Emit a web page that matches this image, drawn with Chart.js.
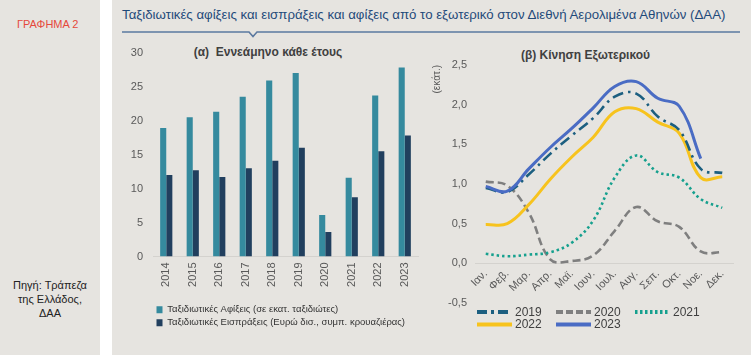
<!DOCTYPE html>
<html>
<head>
<meta charset="utf-8">
<script src="https://cdn.jsdelivr.net/npm/chart.js@4.4.1/dist/chart.umd.min.js"></script>
<style>
    body { margin: 0; width: 751px; height: 361px; background: #fff; position: relative; overflow: hidden;
           font-family: "Liberation Sans", Arial, sans-serif; }
    .panel { position: absolute; background: #e6e4e0; }
    .txt { position: absolute; white-space: nowrap; }
    canvas { position: absolute; }
</style>
</head>
<body>
<div class="panel" style="left:0;top:0;width:100px;height:355px"></div>
<div class="panel" style="left:112px;top:0;width:639px;height:355px"></div>

<div class="txt" style="left:17px;top:18px;font-size:11px;color:#e5483b">ΓΡΑΦΗΜΑ 2</div>
<div class="txt" style="left:0;top:278px;width:100px;text-align:center;font-size:11px;line-height:14px;color:#222;white-space:normal">Πηγή: Τράπεζα<br>της Ελλάδος,<br>ΔΑΑ</div>

<div class="txt" style="left:122px;top:7px;font-size:13.25px;color:#1f4a7a">Ταξιδιωτικές αφίξεις και εισπράξεις και αφίξεις από το εξωτερικό στον Διεθνή Αερολιμένα Αθηνών (ΔΑΑ)</div>
<svg style="position:absolute;left:122px;top:30px" width="620" height="10">
    <polyline points="0,2 127,2 131,6.5 135,2 618,2" fill="none" stroke="#5b79a0" stroke-width="1.6"/>
</svg>

<div class="txt" style="left:112px;top:45px;width:312px;text-align:center;font-size:12px;font-weight:bold;color:#404040">(α)&nbsp; Εννεάμηνο κάθε έτους</div>
<div class="txt" style="left:420px;top:48px;width:331px;text-align:center;font-size:12px;font-weight:bold;color:#404040">(β) Κίνηση Εξωτερικού</div>

<canvas id="barChart" style="left:112px;top:36px" width="318" height="309"></canvas>
<canvas id="lineChart" style="left:420px;top:40px" width="331" height="310"></canvas>

<script>
// (α) εννεάμηνο κάθε έτους
const years = ["2014", "2015", "2016", "2017", "2018", "2019", "2020", "2021", "2022", "2023"];
const arrivals = [18.9, 20.5, 21.3, 23.5, 25.9, 27.0, 6.1, 11.6, 23.7, 27.8];
const receipts = [12.0, 12.7, 11.7, 13.0, 14.1, 16.0, 3.6, 8.7, 15.5, 17.8];

// (β) κίνηση εξωτερικού, εκατ.
const months = ["Ιαν.", "Φεβ.", "Μαρ.", "Απρ.", "Μαϊ.", "Ιουν.", "Ιουλ.", "Αυγ.", "Σεπ.", "Οκτ.", "Νοε.", "Δεκ."];
const y2019 = [0.95, 0.90, 1.12, 1.38, 1.61, 1.83, 2.10, 2.14, 1.85, 1.68, 1.19, 1.14];
const y2020 = [1.03, 0.98, 0.64, 0.05, 0.03, 0.10, 0.41, 0.71, 0.53, 0.46, 0.15, 0.14];
const y2021 = [0.12, 0.09, 0.11, 0.14, 0.26, 0.54, 1.08, 1.36, 1.15, 1.08, 0.81, 0.70];
const y2022 = [0.49, 0.50, 0.74, 1.06, 1.34, 1.59, 1.91, 1.95, 1.78, 1.64, 1.08, 1.09];
const y2023 = [0.97, 0.91, 1.19, 1.46, 1.70, 1.96, 2.23, 2.29, 2.08, 1.98, 1.32, null];

const FONT = "'Liberation Sans', Arial, sans-serif";
const TICK = "#595959";
Chart.defaults.font.family = FONT;
Chart.defaults.color = TICK;

new Chart(document.getElementById("barChart").getContext("2d"), {
    type: "bar",
    data: {
        labels: years,
        datasets: [{
            label: "Ταξιδιωτικές Αφίξεις (σε εκατ. ταξιδιώτες)",
            data: arrivals,
            backgroundColor: "#358a9e"
        }, {
            label: "Ταξιδιωτικές Εισπράξεις (Ευρώ δισ., συμπ. κρουαζιέρας)",
            data: receipts,
            backgroundColor: "#213f5e"
        }]
    },
    options: {
        responsive: false,
        animation: false,
        layout: { padding: { top: 2, right: 12, bottom: 7.5, left: 0 } },
        datasets: { bar: { categoryPercentage: 0.46, barPercentage: 1.0 } },
        plugins: {
            tooltip: { enabled: false },
            legend: {
                position: "bottom",
                align: "start",
                fullSize: false,
                labels: { boxWidth: 6, boxHeight: 7, padding: 3.5, color: "#333", font: { size: 9.5 } }
            }
        },
        scales: {
            x: {
                afterFit: s => { s.height = 45; },
                grid: { display: false, drawTicks: false },
                border: { display: true, color: "#d4d2ce", width: 1 },
                ticks: { minRotation: 90, maxRotation: 90, padding: 6, font: { size: 11 } }
            },
            y: {
                min: 0, max: 30,
                afterFit: s => { s.width = 41; },
                grid: { display: false, drawTicks: false },
                border: { display: false },
                ticks: { stepSize: 5, padding: 10, font: { size: 11 } }
            }
        }
    }
});

// legend for the line chart: line samples with the dataset dash styles
const lineLegend = {
    id: "lineLegend",
    afterDraw(chart) {
        const { ctx, chartArea } = chart;
        ctx.save();
        chart.data.datasets.forEach((ds, i) => {
            const x = chartArea.left + 2 + (i % 3) * 79;
            const y = chartArea.bottom + 9 + Math.floor(i / 3) * 12.6;
            ctx.beginPath();
            ctx.setLineDash(ds.legendDash || []);
            ctx.strokeStyle = ds.borderColor;
            ctx.lineWidth = 4;
            ctx.moveTo(x, y);
            ctx.lineTo(x + 35, y);
            ctx.stroke();
            ctx.setLineDash([]);
            ctx.fillStyle = "#404040";
            ctx.font = "12px " + FONT;
            ctx.textBaseline = "middle";
            ctx.fillText(ds.label, x + 38, y + 0.5);
        });
        ctx.restore();
    }
};

new Chart(document.getElementById("lineChart").getContext("2d"), {
    type: "line",
    data: {
        labels: months,
        datasets: [{
            label: "2019", data: y2019, borderColor: "#1c5f80", borderWidth: 2.6,
            borderDash: [11, 5, 2.5, 5], legendDash: [10, 4, 3, 4], order: 2
        }, {
            label: "2020", data: y2020, borderColor: "#7f7f7f", borderWidth: 2.6,
            borderDash: [8, 4], legendDash: [7, 3], order: 5
        }, {
            label: "2021", data: y2021, borderColor: "#16a08e", borderWidth: 2.6,
            borderDash: [2.5, 3], legendDash: [2.5, 2.5], order: 4
        }, {
            label: "2022", data: y2022, borderColor: "#f7c31e", borderWidth: 3, order: 3
        }, {
            label: "2023", data: y2023, borderColor: "#4a6cc4", borderWidth: 3, order: 1
        }]
    },
    options: {
        responsive: false,
        animation: false,
        layout: { padding: { top: 25, right: 18, bottom: 47, left: 0 } },
        elements: { point: { radius: 0 }, line: { tension: 0.4, fill: false } },
        plugins: { legend: { display: false }, tooltip: { enabled: false } },
        scales: {
            x: {
                position: { y: 0 },
                offset: true,
                grid: { display: false, drawTicks: false },
                border: { display: true, color: "#d4d2ce", width: 1 },
                ticks: { autoSkip: false, minRotation: 45, maxRotation: 45, padding: 4, font: { size: 11 } }
            },
            y: {
                min: -0.5, max: 2.5,
                afterFit: s => { s.width = 55; },
                grid: { display: false, drawTicks: false },
                border: { display: false },
                title: { display: true, text: "(εκάτ.)", align: "end", font: { size: 10 }, padding: { top: 11, bottom: 0 } },
                ticks: {
                    stepSize: 0.5, padding: 8, font: { size: 11 },
                    callback: v => v.toFixed(1).replace(".", ",")
                }
            }
        }
    },
    plugins: [lineLegend]
});
</script>
</body>
</html>
